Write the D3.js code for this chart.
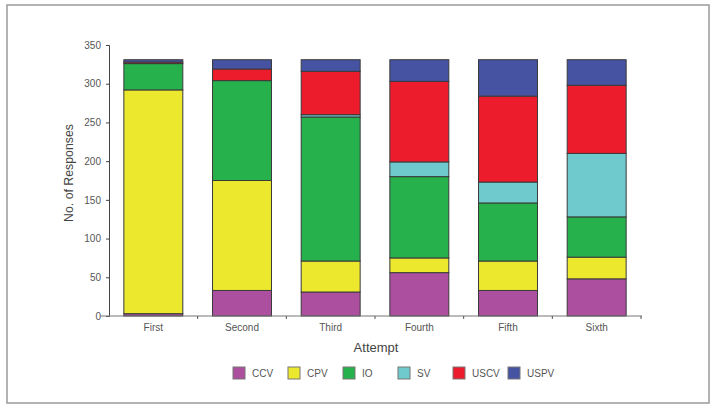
<!DOCTYPE html>
<html><head><meta charset="utf-8">
<script src="https://cdn.jsdelivr.net/npm/d3@7"></script>
<style>body{margin:0;background:#fff}svg{display:block;font-family:"Liberation Sans",Arial,sans-serif}</style>
</head><body><svg id="c" width="716" height="411"></svg>
<script>
const categories = ["First","Second","Third","Fourth","Fifth","Sixth"];
const seriesNames = ["CCV","CPV","IO","SV","USCV","USPV"];
const CCV  = [3, 33, 31, 56, 33, 48];
const CPV  = [289, 142, 40, 19, 38, 28];
const IO   = [34, 129, 186, 105, 75, 52];
const SV   = [0, 0, 3, 19, 27, 82];
const USCV = [2, 15, 56, 104, 111, 88];
const USPV = [3, 12, 15, 28, 47, 33];
const yTicks = [0,50,100,150,200,250,300,350];
const colors = ["#ad4f9f","#ece82e","#27b14c","#6ecacd","#ec1c2c","#4653a3"];

const seriesVals = [CCV,CPV,IO,SV,USCV,USPV];
const rows = categories.map((c,i)=>{const o={cat:c};seriesNames.forEach((s,j)=>o[s]=seriesVals[j][i]);return o;});
const stack = d3.stack().keys(seriesNames)(rows);

const svg = d3.select("#c");
svg.append("rect").attr("x",7).attr("y",5).attr("width",702).attr("height",398)
  .attr("fill","none").attr("stroke","#9a9a9a").attr("stroke-width",1.5);

const x = d3.scaleBand().domain(categories).range([109,641]).paddingInner(0.335).paddingOuter(0.1675);
const y = d3.scaleLinear().domain([0,350]).range([316,45]);

// bars
const g = svg.append("g");
stack.forEach((layer,j)=>{
  g.selectAll(null).data(layer).enter().append("rect")
    .attr("x",d=>x(d.data.cat)).attr("width",x.bandwidth())
    .attr("y",d=>y(d[1])).attr("height",d=>y(d[0])-y(d[1]))
    .attr("fill",colors[j]).attr("stroke","#3a3a3a").attr("stroke-width",1);
});

// y axis
const ya = svg.append("g").attr("transform","translate(109,0)")
  .call(d3.axisLeft(y).tickValues(yTicks).tickSize(3).tickPadding(5));
ya.select(".domain").attr("stroke","#444");
ya.selectAll(".tick line").attr("stroke","#444");
ya.selectAll(".tick text").attr("fill","#555").attr("font-size",10);

// x axis
const xa = svg.append("g").attr("transform","translate(0,316)");
xa.append("line").attr("x1",100).attr("x2",642).attr("y1",0).attr("y2",0).attr("stroke","#777").attr("stroke-width",1.2);
const step = x.step();
d3.range(1,categories.length+1).forEach(i=>{
  const xx = 109 + step*i;
  xa.append("line").attr("x1",xx).attr("x2",xx).attr("y1",0).attr("y2",3).attr("stroke","#555");
});
xa.selectAll(null).data(categories).enter().append("text")
  .attr("x",d=>x(d)+x.bandwidth()/2).attr("y",15).attr("text-anchor","middle")
  .attr("fill","#555").attr("font-size",10).text(d=>d);

// titles
svg.append("text").attr("x",376).attr("y",352).attr("text-anchor","middle")
  .attr("fill","#444").attr("font-size",13).text("Attempt");
svg.append("text").attr("transform","translate(73,173) rotate(-90)").attr("text-anchor","middle")
  .attr("fill","#444").attr("font-size",12.3).text("No. of Responses");

// legend
const lg = svg.append("g");
seriesNames.forEach((s,j)=>{
  const lx = 233 + j*55;
  lg.append("rect").attr("x",lx).attr("y",367).attr("width",12).attr("height",12)
    .attr("fill",colors[j]).attr("stroke","#777").attr("stroke-width",1);
  lg.append("text").attr("x",lx+19).attr("y",377).attr("fill","#555").attr("font-size",10).text(s);
});
</script></body></html>
